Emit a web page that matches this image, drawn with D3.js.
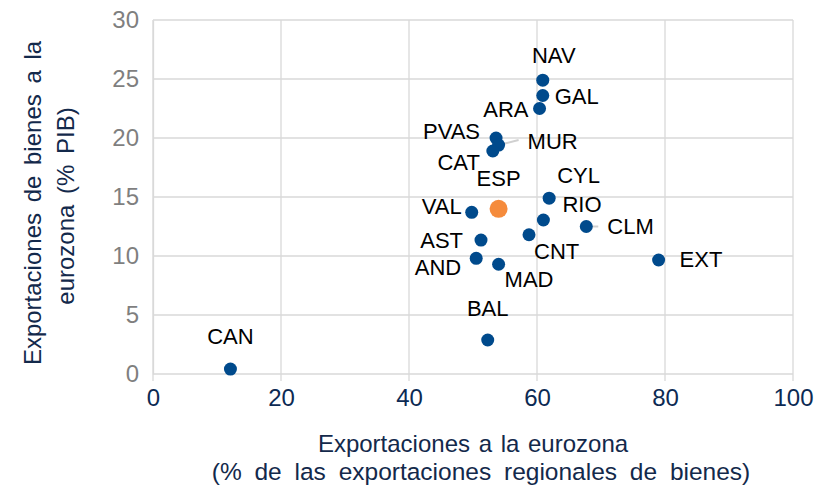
<!DOCTYPE html>
<html>
 <head>
  <meta charset="UTF-8">
  <title>Exportaciones a la eurozona</title>
  <style>
    body { margin: 0; background: #fff; }
    text { font-family: "Liberation Sans", Arial, sans-serif; }
  </style>
 </head>
 <body>
<div id="viz-wrapper"></div>
 <script src="https://cdn.jsdelivr.net/npm/d3@7"></script>
 <script type="text/javascript">
    // data
    var regions = ["NAV", "GAL", "ARA", "PVAS", "MUR", "CAT", "CYL", "VAL", "ESP", "RIO",
                   "CLM", "CNT", "AST", "AND", "MAD", "EXT", "BAL", "CAN"];
    var shareEuro = [60.9, 60.9, 60.4, 53.6, 54.0, 53.1, 61.9, 49.8, 54.0, 61.0,
                     67.7, 58.75, 51.25, 50.5, 54.0, 79.0, 52.3, 12.1];
    var pctGdp = [24.9, 23.6, 22.5, 20.0, 19.4, 18.9, 14.9, 13.7, 14.0, 13.05,
                  12.5, 11.8, 11.35, 9.8, 9.3, 9.66, 2.88, 0.42];
    var xTicks = [0, 20, 40, 60, 80, 100];
    var yTicks = [0, 5, 10, 15, 20, 25, 30];

    var width = 817, height = 489;

    // label placement around each dot: [dx, dy, anchor]
    var labelPos = {
      NAV: [11, -17, "middle"], GAL: [12, 8, "start"], ARA: [-11, 8, "end"],
      PVAS: [-16, 1, "end"], MUR: [29, 4, "start"], CAT: [-13, 19, "end"],
      CYL: [8, -15, "start"], VAL: [-10, 2, "end"], ESP: [0, -23, "middle"],
      RIO: [19, -8, "start"], CLM: [21, 7, "start"], CNT: [5, 24, "start"],
      AST: [-18, 8, "end"], AND: [-15, 17, "end"], MAD: [6, 23, "start"],
      EXT: [21, 7, "start"], BAL: [0, -24, "middle"], CAN: [0, -25, "middle"]
    };
    // short grey leader lines (from dot, px)
    var leaders = { MUR: [20, -5], CLM: [12, 0] };

    var svg = d3.select("#viz-wrapper")
                .append("svg")
                .attr("width", width)
                .attr("height", height);

    var x = d3.scaleLinear().domain([0, 100]).range([153, 793]);
    var y = d3.scaleLinear().domain([0, 30]).range([374, 20]);

    // gridlines
    svg.append("g").selectAll("line")
       .data(yTicks).enter().append("line")
       .attr("x1", x(0)).attr("x2", x(100))
       .attr("y1", function(d) { return y(d); })
       .attr("y2", function(d) { return y(d); })
       .attr("stroke", "#d9d9d9").attr("stroke-width", 1.3);
    svg.append("g").selectAll("line")
       .data(xTicks).enter().append("line")
       .attr("x1", function(d) { return x(d); })
       .attr("x2", function(d) { return x(d); })
       .attr("y1", y(30)).attr("y2", y(0) + 7)
       .attr("stroke", "#d9d9d9").attr("stroke-width", 1.3);

    // y axis (ticks only as labels)
    var yAxis = svg.append("g")
       .attr("transform", "translate(" + x(0) + ",0)")
       .call(d3.axisLeft(y).tickValues(yTicks).tickSize(0).tickPadding(14));
    yAxis.select(".domain").attr("stroke", "#d9d9d9").attr("stroke-width", 1.3);
    yAxis.selectAll("text").attr("fill", "#7f7f7f").style("font-size", "24px")
         .style("font-family", "'Liberation Sans', Arial, sans-serif");

    var xAxis = svg.append("g")
       .attr("transform", "translate(0," + y(0) + ")")
       .call(d3.axisBottom(x).tickValues(xTicks).tickSize(0).tickPadding(15));
    xAxis.select(".domain").remove();
    xAxis.selectAll("text").attr("fill", "#0c2a53").style("font-size", "24px")
         .style("font-family", "'Liberation Sans', Arial, sans-serif");

    // leader lines
    regions.forEach(function(r, i) {
      if (leaders[r]) {
        svg.append("line")
           .attr("x1", x(shareEuro[i])).attr("y1", y(pctGdp[i]))
           .attr("x2", x(shareEuro[i]) + leaders[r][0])
           .attr("y2", y(pctGdp[i]) + leaders[r][1])
           .attr("stroke", "#d0d0d0").attr("stroke-width", 2);
      }
    });

    // dots
    svg.append("g").selectAll("circle")
       .data(regions).enter().append("circle")
       .attr("cx", function(d, i) { return x(shareEuro[i]); })
       .attr("cy", function(d, i) { return y(pctGdp[i]); })
       .attr("r", function(d) { return d === "ESP" ? 9 : 6.5; })
       .attr("fill", function(d) { return d === "ESP" ? "#f58b3c" : "#004a8c"; });

    // labels
    svg.append("g").selectAll("text")
       .data(regions).enter().append("text")
       .attr("x", function(d, i) { return x(shareEuro[i]) + labelPos[d][0]; })
       .attr("y", function(d, i) { return y(pctGdp[i]) + labelPos[d][1]; })
       .attr("text-anchor", function(d) { return labelPos[d][2]; })
       .style("font-size", "22px")
       .attr("fill", "#000")
       .text(function(d) { return d; });

    // axis titles
    var xt = svg.append("text")
       .attr("text-anchor", "middle").attr("fill", "#13294b")
       .style("font-size", "24px");
    xt.append("tspan").attr("x", 473).attr("y", 452).style("word-spacing", "2px")
      .text("Exportaciones a la eurozona");
    xt.append("tspan").attr("x", 481).attr("y", 480).style("font-size", "24.5px")
      .style("word-spacing", "6px")
      .text("(% de las exportaciones regionales de bienes)");

    var yt = svg.append("text")
       .attr("text-anchor", "middle").attr("fill", "#13294b")
       .attr("transform", "rotate(-90)")
       .style("font-size", "24px").style("word-spacing", "4px");
    yt.append("tspan").attr("x", -203).attr("y", 41).text("Exportaciones de bienes a la");
    yt.append("tspan").attr("x", -206).attr("y", 74).text("eurozona (% PIB)");
 </script>
 </body>
</html>
